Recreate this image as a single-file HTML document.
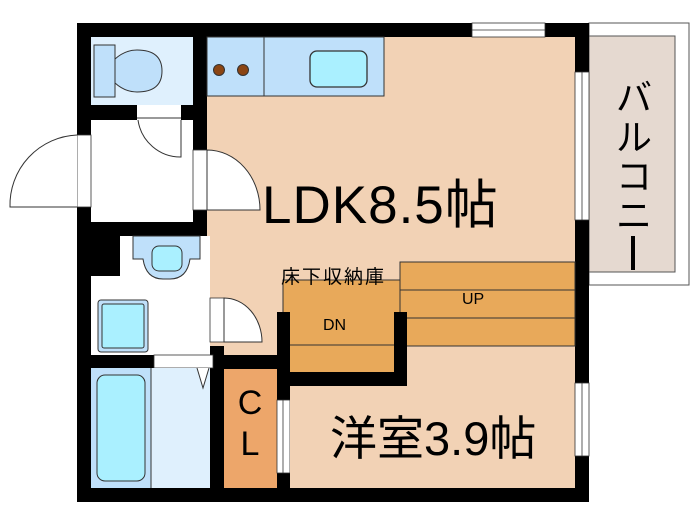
<!DOCTYPE html>
<html><head><meta charset="utf-8"><style>
html,body{margin:0;padding:0;background:#fff;}
svg{display:block;}
text{font-family:"Liberation Sans","Noto Sans CJK JP",sans-serif;fill:#000;}
</style></head><body>
<svg width="700" height="525" viewBox="0 0 700 525" xmlns="http://www.w3.org/2000/svg">
<rect x="589" y="23" width="100" height="262" fill="#fff" stroke="#555" stroke-width="1"/>
<rect x="589" y="36" width="86" height="236" fill="#e5d9d0" stroke="#555" stroke-width="1"/>
<rect x="77" y="23" width="512" height="479" fill="#000"/>
<rect x="207" y="37" width="368" height="309" fill="#f2d2b5"/>
<rect x="224" y="236" width="53" height="119" fill="#f2d2b5"/>
<rect x="207" y="37" width="177" height="59" fill="#bfe0fa" stroke="#333" stroke-width="1"/>
<line x1="264" y1="37" x2="264" y2="96" stroke="#333"/>
<rect x="310" y="51" width="57" height="36" rx="7" fill="#aaf0ff" stroke="#333" stroke-width="1.3"/>
<circle cx="219" cy="70" r="5.5" fill="#8b4513" stroke="#333"/>
<circle cx="243" cy="70" r="5.5" fill="#8b4513" stroke="#333"/>
<rect x="91" y="37" width="102" height="68" fill="#dff0fd"/>
<rect x="94" y="45" width="21" height="52" fill="#bfe0fa" stroke="#333"/>
<path d="M115 59 Q125 50 137 50 Q162 50 162 71 Q162 92 137 92 Q125 92 115 83 Z" fill="#bfe0fa" stroke="#333"/>
<rect x="91" y="120" width="102" height="102" fill="#fff"/>
<rect x="137" y="105" width="44" height="15" fill="#fff"/>
<line x1="137" y1="118" x2="181" y2="118" stroke="#333"/>
<path d="M138 120 A43 43 0 0 0 181 157 L181 120" fill="none" stroke="#333"/>
<rect x="77" y="135" width="14" height="72" fill="#fff" stroke="#333" stroke-width="0.8"/>
<path d="M77 135 A70 70 0 0 0 10 207 L77 207" fill="#fff" stroke="#333"/>
<rect x="193" y="150" width="14" height="60" fill="#fff" stroke="#333" stroke-width="0.8"/>
<path d="M207 150 A53 60 0 0 1 260 210 L207 210 Z" fill="#fff" stroke="#333"/>
<rect x="91" y="236" width="119" height="119" fill="#fff"/>
<rect x="91" y="236" width="29" height="40" fill="#000"/>
<path d="M133 236 L200 236 L200 259 L190 259 Q187 279 170 279 L163 279 Q146 279 143 259 L133 259 Z" fill="#bfe0fa" stroke="#333"/>
<rect x="152" y="246" width="30" height="25" rx="7" fill="#aaf0ff" stroke="#333"/>
<rect x="98" y="300" width="50" height="52" rx="3" fill="#bfe0fa" stroke="#333"/>
<rect x="102" y="304" width="42" height="44" rx="2" fill="#aaf0ff" stroke="#333"/>
<rect x="210" y="298" width="14" height="44" fill="#fff" stroke="#333" stroke-width="0.8"/>
<path d="M224 298 A38 44 0 0 1 262 342 L224 342 Z" fill="#fff" stroke="#333"/>
<rect x="154" y="355" width="59" height="13" fill="#fff" stroke="#333" stroke-width="0.8"/>
<rect x="91" y="368" width="60" height="120" fill="#bfe0fa"/>
<rect x="151" y="368" width="59" height="120" fill="#dff0fd"/>
<line x1="151" y1="368" x2="151" y2="488" stroke="#333"/>
<rect x="97" y="375" width="48" height="106" rx="8" fill="#aaf0ff" stroke="#333"/>
<path d="M197 368 L203 388 L209 368" fill="#fff" stroke="#333"/>
<rect x="224" y="369" width="53" height="119" fill="#eda66a"/>
<text x="250" y="414" font-size="34" text-anchor="middle">C</text>
<text x="250" y="455" font-size="34" text-anchor="middle">L</text>
<rect x="277" y="400" width="13" height="73" fill="#fff" stroke="#333" stroke-width="0.8"/>
<line x1="283" y1="400" x2="283" y2="473" stroke="#333" stroke-width="0.8"/>
<rect x="290" y="385" width="285" height="103" fill="#f2d2b5"/>
<rect x="407" y="346" width="168" height="40" fill="#f2d2b5"/>
<rect x="400" y="262" width="175" height="84" fill="#e8a95a" stroke="#333" stroke-width="1"/>
<line x1="400" y1="290" x2="575" y2="290" stroke="#333"/>
<line x1="400" y1="318" x2="575" y2="318" stroke="#333"/>
<text x="462" y="304" font-size="16">UP</text>
<rect x="283" y="280" width="117" height="40" fill="#e8a95a" stroke="#333" stroke-width="1"/>
<rect x="277" y="312" width="130" height="74" fill="#000"/>
<rect x="290" y="312" width="104" height="60" fill="#e8a95a"/>
<line x1="290" y1="345" x2="394" y2="345" stroke="#333"/>
<text x="323" y="330" font-size="16">DN</text>
<text x="281" y="283" font-size="19" letter-spacing="2">床下収納庫</text>
<rect x="472" y="23" width="73" height="14" fill="#fff" stroke="#333" stroke-width="0.8"/>
<line x1="472" y1="30" x2="545" y2="30" stroke="#333" stroke-width="0.8"/>
<rect x="575" y="72" width="14" height="148" fill="#fff" stroke="#333" stroke-width="0.8"/>
<line x1="582" y1="72" x2="582" y2="220" stroke="#333" stroke-width="0.8"/>
<rect x="575" y="383" width="14" height="73" fill="#fff" stroke="#333" stroke-width="0.8"/>
<line x1="582" y1="383" x2="582" y2="456" stroke="#333" stroke-width="0.8"/>
<text x="262" y="223" font-size="53" letter-spacing="1">LDK8.5帖</text>
<text x="330" y="455" font-size="47">洋室3.9帖</text>
<g font-size="36" text-anchor="middle">
<text x="634" y="110">バ</text>
<text x="634" y="150">ル</text>
<text x="634" y="189">コ</text>
<text x="634" y="228">ニ</text>
<rect x="631" y="236" width="4" height="34" fill="#000"/>
</g>
</svg>
</body></html>
